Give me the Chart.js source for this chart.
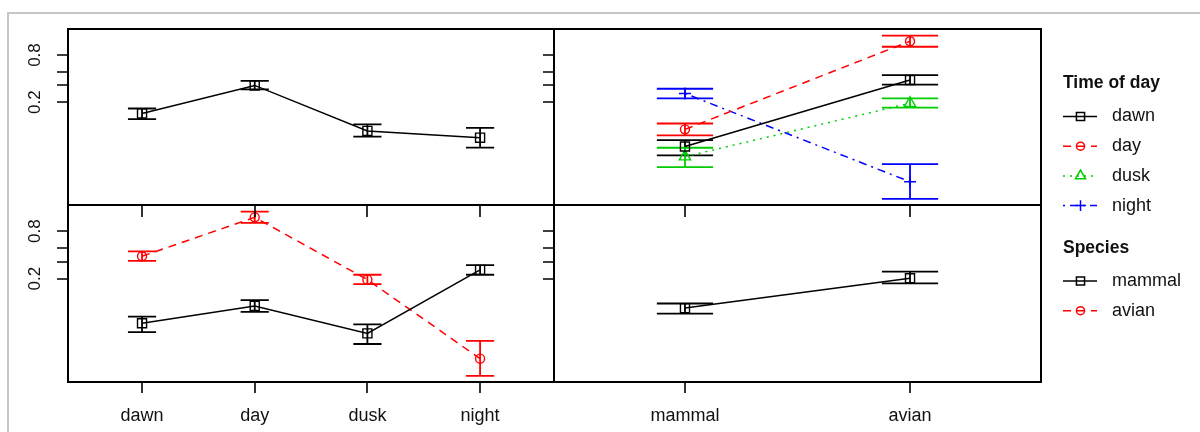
<!DOCTYPE html>
<html>
<head>
<meta charset="utf-8">
<script src="https://cdn.jsdelivr.net/npm/chart.js@4.4.1/dist/chart.umd.min.js"></script>
<style>
  html, body { margin: 0; padding: 0; background: #fff; }
  #wrap { position: relative; width: 1200px; height: 432px; overflow: hidden; }
  #wrap canvas { position: absolute; left: 0; top: 0; }
  #frame { position: absolute; left: 7px; top: 12px; width: 1300px; height: 500px;
           border: 2px solid #c6c6c6; box-sizing: border-box; }
</style>
</head>
<body>
<div id="wrap">
  <div id="frame"></div>
  <canvas id="timeChart" width="1200" height="432"></canvas>
  <canvas id="bySpeciesChart" width="1200" height="432"></canvas>
  <canvas id="byTimeChart" width="1200" height="432"></canvas>
  <canvas id="speciesChart" width="1200" height="432"></canvas>
</div>
<script>
// categories
const times = ['dawn', 'day', 'dusk', 'night'];
const species = ['mammal', 'avian'];

// main effect of time of day (fitted probability and interval)
const timeFit   = [0.114, 0.401, 0.044, 0.030];
const timeLower = [0.084, 0.346, 0.032, 0.017];
const timeUpper = [0.147, 0.468, 0.063, 0.052];

// main effect of species
const speciesFit   = [0.0425, 0.203];
const speciesLower = [0.0312, 0.159];
const speciesUpper = [0.0550, 0.274];

// species x time of day
const mammalFit   = [0.0180, 0.0480, 0.0100, 0.294];
const mammalLower = [0.0108, 0.0342, 0.0054, 0.238];
const mammalUpper = [0.0261, 0.0664, 0.0168, 0.355];
const avianFit    = [0.480, 0.900, 0.190, 0.0023];
const avianLower  = [0.412, 0.867, 0.153, 0.00084];
const avianUpper  = [0.551, 0.926, 0.238, 0.0065];

// probability axis
const yTicks = [0.2, 0.4, 0.6, 0.8];
const yTickLabels = ['0.2', '', '', '0.8'];

const timeStyle = [
  { color: '#000000', dash: [], point: 'rect', radius: 6.4 },
  { color: '#ff0000', dash: [8, 6], point: 'circle', radius: 4.5 },
  { color: '#00cd00', dash: [2, 5], point: 'triangle', radius: 6.5 },
  { color: '#0000ff', dash: [2, 5, 8, 5], point: 'cross', radius: 6 }
];
const speciesStyle = timeStyle.slice(0, 2);

const FONT = '18px "Liberation Sans", Arial, sans-serif';
const CAP = 0.125;   // half width of error bar caps, in category units

function logit(p) { return Math.log(p / (1 - p)); }

function series(label, fit, lower, upper, style) {
  return {
    label: label,
    data: fit.map((p, i) => ({ x: i, y: logit(p) })),
    lower: lower.map(logit),
    upper: upper.map(logit),
    showLine: true,
    borderColor: style.color,
    borderWidth: 1.5,
    borderDash: style.dash,
    pointStyle: style.point,
    pointRadius: style.radius,
    pointHoverRadius: style.radius,
    pointBorderColor: style.color,
    pointBackgroundColor: 'rgba(0,0,0,0)',
    pointBorderWidth: 1.4
  };
}

function drawKey(ctx, title, names, styles, top) {
  ctx.font = 'bold 17.5px "Liberation Sans", Arial, sans-serif';
  ctx.fillStyle = '#111';
  ctx.textAlign = 'left';
  ctx.textBaseline = 'middle';
  ctx.fillText(title, 1063, top);
  names.forEach((n, i) => {
    const yy = top + 33 + i * 29.7;
    const s = styles[i];
    ctx.strokeStyle = s.color;
    ctx.lineWidth = 1.5;
    ctx.setLineDash(s.dash);
    ctx.beginPath();
    ctx.moveTo(1063, yy);
    ctx.lineTo(1097, yy);
    ctx.stroke();
    ctx.setLineDash([]);
    ctx.fillStyle = 'rgba(0,0,0,0)';
    Chart.helpers.drawPoint(ctx, { pointStyle: s.point, radius: s.radius * 0.9, rotation: 0, borderWidth: 1.4 }, 1080.5, yy);
    ctx.fillStyle = '#111';
    ctx.font = FONT;
    ctx.fillText(n, 1112, yy);
  });
}

const panelPlugin = {
  id: 'panel',
  beforeDatasetsDraw(chart) {
    const ctx = chart.ctx, x = chart.scales.x, y = chart.scales.y;
    ctx.save();
    ctx.lineWidth = 1.8;
    chart.data.datasets.forEach(ds => {
      ctx.strokeStyle = ds.borderColor;
      ds.data.forEach((pt, i) => {
        const px = x.getPixelForValue(pt.x);
        const l = x.getPixelForValue(pt.x - CAP), r = x.getPixelForValue(pt.x + CAP);
        const lo = y.getPixelForValue(ds.lower[i]), hi = y.getPixelForValue(ds.upper[i]);
        ctx.beginPath();
        ctx.moveTo(px, lo); ctx.lineTo(px, hi);
        ctx.moveTo(l, lo); ctx.lineTo(r, lo);
        ctx.moveTo(l, hi); ctx.lineTo(r, hi);
        ctx.stroke();
      });
    });
    ctx.restore();
  },
  afterDraw(chart, args, opts) {
    const ctx = chart.ctx, a = chart.chartArea, x = chart.scales.x, y = chart.scales.y;
    ctx.save();
    ctx.strokeStyle = '#000';
    ctx.lineWidth = 2;
    ctx.strokeRect(a.left, a.top, a.right - a.left, a.bottom - a.top);

    ctx.lineWidth = 1.6;
    ctx.beginPath();
    yTicks.forEach(p => {
      const py = Math.round(y.getPixelForValue(logit(p)));
      ctx.moveTo(a.left - 11, py); ctx.lineTo(a.left, py);
    });
    if (opts.xAxis) {
      opts.cats.forEach((c, i) => {
        const px = Math.round(x.getPixelForValue(i));
        ctx.moveTo(px, a.top); ctx.lineTo(px, a.top + 12);
        ctx.moveTo(px, a.bottom); ctx.lineTo(px, a.bottom + 11);
      });
    }
    ctx.stroke();

    ctx.fillStyle = '#111';
    ctx.font = FONT;
    ctx.textAlign = 'center';
    ctx.textBaseline = 'middle';
    if (opts.yLabels) {
      ctx.font = '17px "Liberation Sans", Arial, sans-serif';
      yTicks.forEach((p, i) => {
        if (!yTickLabels[i]) return;
        ctx.save();
        ctx.translate(a.left - 33, y.getPixelForValue(logit(p)));
        ctx.rotate(-Math.PI / 2);
        ctx.fillText(yTickLabels[i], 0, 0);
        ctx.restore();
      });
      ctx.font = FONT;
    }
    if (opts.xAxis) {
      opts.cats.forEach((c, i) => ctx.fillText(c, x.getPixelForValue(i), a.bottom + 34));
    }
    if (opts.key) {
      drawKey(ctx, 'Time of day', times, timeStyle, 83.5);
      drawKey(ctx, 'Species', species, speciesStyle, 248);
    }
    ctx.restore();
  }
};

function makePanel(id, box, xMin, xMax, datasets, opts) {
  return new Chart(document.getElementById(id), {
    type: 'scatter',
    data: { datasets: datasets },
    options: {
      responsive: false,
      animation: false,
      events: [],
      layout: { padding: { left: box[0], top: box[1], right: 1200 - box[2], bottom: 432 - box[3] } },
      scales: {
        x: { type: 'linear', display: false, min: xMin, max: xMax },
        y: { type: 'linear', display: false, min: -7.44, max: 2.92 }
      },
      plugins: { legend: { display: false }, tooltip: { enabled: false }, panel: opts }
    },
    plugins: [panelPlugin]
  });
}

// time of day, top left
makePanel('timeChart', [68, 29, 554, 205], -0.657, 3.656,
  [series('time', timeFit, timeLower, timeUpper, timeStyle[0])],
  { yLabels: true, xAxis: false, cats: times });

// species lines over time of day, bottom left
makePanel('bySpeciesChart', [68, 205, 554, 382], -0.657, 3.656,
  [series('mammal', mammalFit, mammalLower, mammalUpper, speciesStyle[0]),
   series('avian', avianFit, avianLower, avianUpper, speciesStyle[1])],
  { yLabels: true, xAxis: true, cats: times });

// time of day lines over species, top right
const fits = [mammalFit, avianFit], lows = [mammalLower, avianLower], highs = [mammalUpper, avianUpper];
makePanel('byTimeChart', [554, 29, 1041, 205], -0.582, 1.582,
  times.map((t, k) => series(t, fits.map(f => f[k]), lows.map(f => f[k]), highs.map(f => f[k]), timeStyle[k])),
  { yLabels: false, xAxis: false, cats: species, key: true });

// species, bottom right
makePanel('speciesChart', [554, 205, 1041, 382], -0.582, 1.582,
  [series('species', speciesFit, speciesLower, speciesUpper, speciesStyle[0])],
  { yLabels: false, xAxis: true, cats: species });
</script>
</body>
</html>
